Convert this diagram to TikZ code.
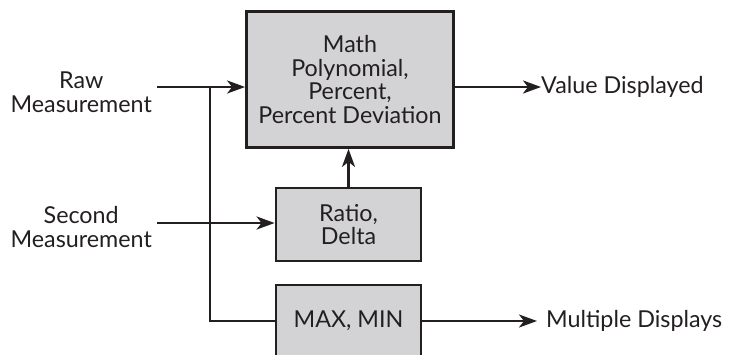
\documentclass[tikz,border=0pt]{standalone}
\usepackage{fontspec}
\setmainfont{Lato}
\usetikzlibrary{arrows.meta}
\definecolor{boxgray}{HTML}{D3D3D5}
\definecolor{ink}{HTML}{231F20}
\begin{document}
\begin{tikzpicture}[x=1pt,y=-1pt,
  every node/.style={font=\fontsize{23.3}{23.5}\selectfont, text=ink},
  blk/.style={draw=ink, fill=boxgray, line width=2.8pt, align=center, inner sep=0pt},
  lbl/.style={align=center, inner sep=0pt},
  wire/.style={draw=ink, line width=2.6pt},
  arr/.style={wire, -{Stealth[length=18pt,width=13pt,inset=5pt]}}]
\useasboundingbox (0,0) rectangle (735,354);
\clip (0,0) rectangle (735,354);
\node[blk, minimum width=207pt, minimum height=136pt] (math) at (350,79.5)
  {Math\\Polynomial,\\Percent,\\Percent Deviation};
\node[blk, minimum width=145pt, minimum height=73pt] (ratio) at (348.5,224.5)
  {Ratio,\\Delta};
\node[blk, minimum width=145pt, minimum height=72pt] (maxmin) at (348.5,321)
  {MAX, MIN};
\node[lbl, anchor=east] (raw) at (152,92) {Raw\\Measurement};
\node[lbl, anchor=east] (second) at (152,227) {Second\\Measurement};
\node[lbl, anchor=west] (value) at (541,87) {Value Displayed};
\node[lbl, anchor=west] (multi) at (546,321) {Multiple Displays};
\coordinate (rawend) at (157,87);
\coordinate (secend) at (157,223);
\coordinate (j1) at (210,87);
\coordinate (j2) at (210,321);
\draw[arr] (rawend) -- (math.west |- rawend);
\draw[wire] (j1) -- (j2) -- (maxmin.west);
\draw[arr] (secend) -- (ratio.west |- secend);
\draw[arr] (ratio.north) -- (ratio.north |- math.south);
\draw[arr] (math.east |- rawend) -- (value.west);
\draw[arr] (maxmin.east) -- ([xshift=-9pt]multi.west);
\end{tikzpicture}
\end{document}
